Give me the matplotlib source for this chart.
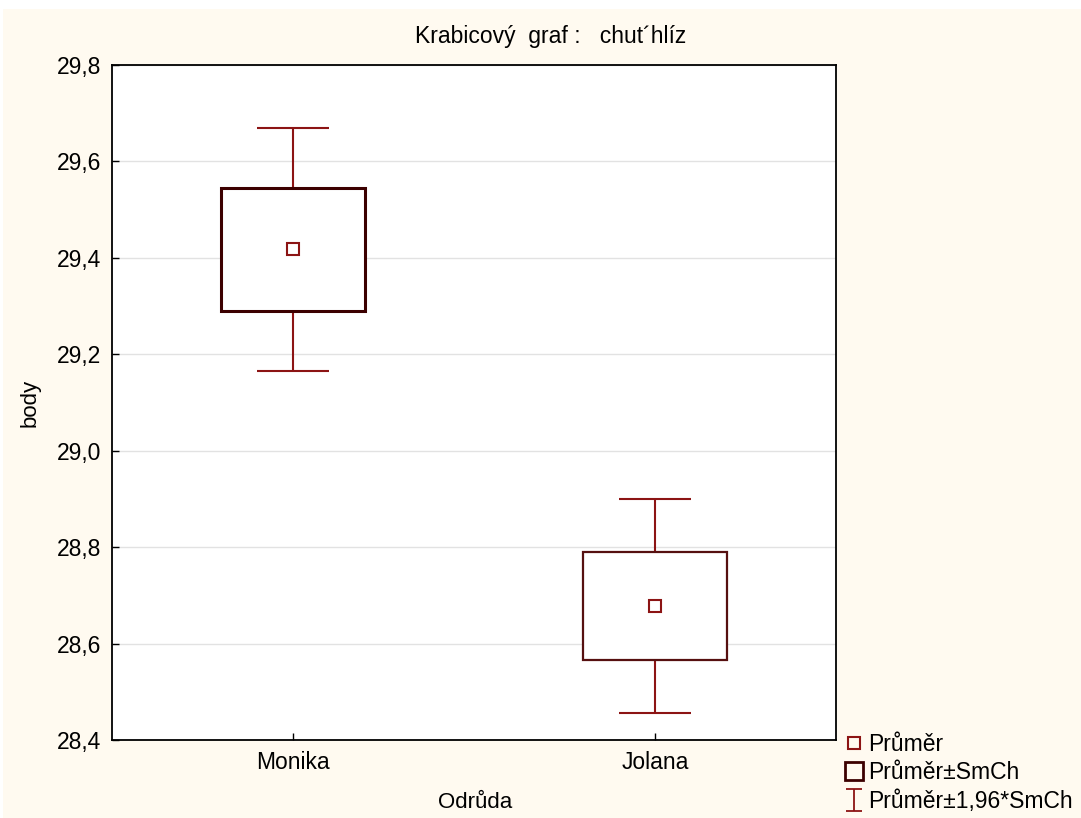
import matplotlib.pyplot as plt
from matplotlib.patches import Rectangle
from matplotlib.lines import Line2D
from matplotlib.path import Path

plt.rcParams['font.family'] = ['Liberation Sans', 'DejaVu Sans']

# data
odrudy = ['Monika', 'Jolana']
prumer = [29.418, 28.678]
box_lo = [29.290, 28.566]
box_hi = [29.545, 28.790]
whisk_lo = [29.166, 28.456]
whisk_hi = [29.669, 28.900]
yticks = [28.4, 28.6, 28.8, 29.0, 29.2, 29.4, 29.6, 29.8]

whisk_col = '#8c1414'
box_cols = ['#3c0000', '#561010']
box_lws = [2.2, 1.6]

fig = plt.figure(figsize=(10.81, 8.18), dpi=100, facecolor='white')
# cream background panel (small white margin at top/left like the original)
fig.patches.append(Rectangle((3 / 1081, 0), 1, 1 - 9 / 818, transform=fig.transFigure,
                             facecolor='#fffaf0', edgecolor='none', zorder=-10))

ax = fig.add_axes([112 / 1081, 1 - 740 / 818, (836 - 112) / 1081, (740 - 65) / 818])
ax.set_facecolor('white')

box_w = 0.4
cap_w = 0.2
for i in range(len(odrudy)):
    ax.vlines(i, whisk_lo[i], box_lo[i], color=whisk_col, lw=1.5, zorder=2)
    ax.vlines(i, box_hi[i], whisk_hi[i], color=whisk_col, lw=1.5, zorder=2)
    ax.hlines([whisk_lo[i], whisk_hi[i]], i - cap_w / 2, i + cap_w / 2,
              color=whisk_col, lw=1.5, zorder=2)
    ax.add_patch(Rectangle((i - box_w / 2, box_lo[i]), box_w, box_hi[i] - box_lo[i],
                           facecolor='white', edgecolor=box_cols[i], lw=box_lws[i], zorder=3))
    ax.plot(i, prumer[i], marker='s', ms=9, mfc='white', mec=whisk_col, mew=1.5, zorder=4)

ax.set_xlim(-0.5, 1.5)
ax.set_ylim(28.4, 29.8)
ax.set_xticks(range(len(odrudy)))
ax.set_xticklabels(odrudy)
ax.set_yticks(yticks)
ax.set_yticklabels([f'{v:.1f}'.replace('.', ',') for v in yticks])
ax.tick_params(direction='in', length=5, width=1, labelsize=16.5, pad=8)
ax.grid(axis='y', color='#e2e2e2', lw=1, zorder=0)
ax.set_axisbelow(True)
for s in ax.spines.values():
    s.set_linewidth(1.3)
    s.set_color('black')

fig.text(551 / 1081, 1 - 37 / 818, 'Krabicový  graf :   chut´hlíz', ha='center', va='center',
         fontsize=16.5)
fig.text(30 / 1081, 1 - 403 / 818, 'body', rotation=90, ha='center', va='center', fontsize=16)
fig.text(475 / 1081, 1 - 803 / 818, 'Odrůda', ha='center', va='center', fontsize=16)

# I-beam legend marker
ibeam = Path([(-0.75, 1), (0.75, 1), (0, 1), (0, -1), (-0.75, -1), (0.75, -1)],
             [Path.MOVETO, Path.LINETO, Path.MOVETO, Path.LINETO, Path.MOVETO, Path.LINETO])
handles = [
    Line2D([], [], ls='none', marker='s', ms=8, mfc='none', mec=whisk_col, mew=1.5),
    Line2D([], [], ls='none', marker='s', ms=13, mfc='none', mec=box_cols[0], mew=2),
    Line2D([], [], ls='none', marker=ibeam, ms=16, mfc='none', mec=whisk_col, mew=1.3),
]
labels = ['Průměr', 'Průměr±SmCh', 'Průměr±1,96*SmCh']
fig.legend(handles, labels, loc='lower left', bbox_to_anchor=(829 / 1081, -11 / 818),
           frameon=False, fontsize=16.5, handlelength=0.8, handletextpad=0.2,
           labelspacing=0.24, borderaxespad=0.3)

fig.savefig('out.png', dpi=100, facecolor=fig.get_facecolor())
